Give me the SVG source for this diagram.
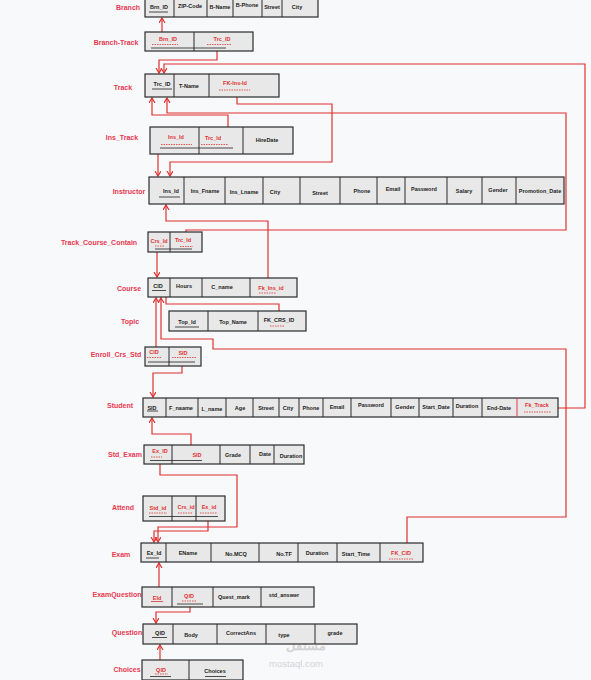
<svg xmlns="http://www.w3.org/2000/svg" width="591" height="680" viewBox="0 0 591 680">
<defs>
<style>
.bg{fill:#f8f9fb}
.box{fill:#e8e8e8;stroke:#2b2b2b;stroke-width:1.2}
.dv{stroke:#2b2b2b;stroke-width:1}
.t{font-family:"Liberation Sans",Arial,sans-serif;font-weight:700;font-size:5.5px;fill:#222;text-anchor:middle}
.r{fill:#e03131}
.lbl{font-family:"Liberation Sans",Arial,sans-serif;font-weight:700;font-size:7px;fill:#e8384f;text-anchor:middle}
.ul{stroke:#222;stroke-width:0.8}
.dl{stroke:#e03131;stroke-width:0.8;stroke-dasharray:1.5 1}
.c{fill:none;stroke:#e03131;stroke-width:1.2}
.wm{font-family:"Liberation Sans",Arial,sans-serif;fill:#d4d4d4;text-anchor:middle}
</style>
<marker id="ah" markerUnits="userSpaceOnUse" markerWidth="8" markerHeight="8" refX="5" refY="3" orient="auto">
<path d="M0,0 L5,3 L0,6" fill="none" stroke="#e03131" stroke-width="1.2"/>
</marker>
</defs>
<rect class="bg" x="0" y="0" width="591" height="680"/>

<g id="watermark">
<text class="wm" x="306" y="650" font-size="13" font-weight="700" font-family="DejaVu Sans, sans-serif">مستقل</text>
<text class="wm" x="296" y="667" font-size="9.5">mostaql.com</text>
</g>

<g id="connectors">
<path class="c" d="M162,32 V18" marker-end="url(#ah)"/>
<path class="c" d="M217,51 V60 H159 V73" marker-end="url(#ah)"/>
<path class="c" d="M558,408 H585 V64 H164 V73" marker-end="url(#ah)"/>
<path class="c" d="M228,127 V115 H152 V98" marker-end="url(#ah)"/>
<path class="c" d="M186,232 V230 H566 V113 H167 V98" marker-end="url(#ah)"/>
<path class="c" d="M237,97 V104 H332 V162 H170 V176" marker-end="url(#ah)"/>
<path class="c" d="M158,154 V176" marker-end="url(#ah)"/>
<path class="c" d="M268,278 V221 H166 V205" marker-end="url(#ah)"/>
<path class="c" d="M157,252 V277" marker-end="url(#ah)"/>
<path class="c" d="M279,311 V304 H166 V297"/>
<path class="c" d="M156,347 V298" marker-end="url(#ah)"/>
<path class="c" d="M407,543 V517 H566 V349 H213 V339 H161 V298" marker-end="url(#ah)"/>
<path class="c" d="M182,366 V373 H153 V397" marker-end="url(#ah)"/>
<path class="c" d="M191,445 V434 H152 V418" marker-end="url(#ah)"/>
<path class="c" d="M160,464 V475 H237 V527 H158 V542" marker-end="url(#ah)"/>
<path class="c" d="M208,521 V531 H154 V542" marker-end="url(#ah)"/>
<path class="c" d="M159,587 V563" marker-end="url(#ah)"/>
<path class="c" d="M190,607 V612 H156 V623" marker-end="url(#ah)"/>
<path class="c" d="M160,660 V645" marker-end="url(#ah)"/>
</g>

<g id="branch">
<text class="lbl" x="128" y="10">Branch</text>
<rect class="box" x="145" y="-3" width="173" height="20"/>
<path class="dv" d="M174,-3V17M207,-3V17M233,-3V17M262,-3V17M282,-3V17"/>
<text class="t" x="159" y="9">Brn_ID</text>
<line class="ul" x1="149" y1="12" x2="168" y2="12"/>
<text class="t" x="190" y="8">ZIP-Code</text>
<text class="t" x="220" y="9">B-Name</text>
<text class="t" x="247" y="7">B-Phone</text>
<text class="t" x="272" y="9">Street</text>
<text class="t" x="297" y="9">City</text>
</g>

<g id="branch-track">
<text class="lbl" x="116" y="45">Branch-Track</text>
<rect class="box" x="145" y="32" width="108" height="19"/>
<path class="dv" d="M194,32V51"/>
<text class="t r" x="168" y="41">Brn_ID</text>
<line class="dl" x1="152" y1="44.5" x2="178" y2="44.5"/>
<text class="t r" x="222" y="41">Trc_ID</text>
<line class="dl" x1="207" y1="44.5" x2="232" y2="44.5"/>
<line class="ul" x1="151" y1="48" x2="226" y2="48"/>
</g>

<g id="track">
<text class="lbl" x="123" y="90">Track</text>
<rect class="box" x="145" y="74" width="134" height="23"/>
<path class="dv" d="M174,74V97M209,74V97"/>
<text class="t" x="162" y="86">Trc_ID</text>
<line class="ul" x1="152" y1="89" x2="172" y2="89"/>
<text class="t" x="189" y="88">T-Name</text>
<text class="t r" x="235" y="85">FK-Ins-Id</text>
<line class="dl" x1="219" y1="90" x2="250" y2="90"/>
</g>

<g id="ins_track">
<text class="lbl" x="122" y="140">Ins_Track</text>
<rect class="box" x="150" y="127" width="143" height="27"/>
<path class="dv" d="M199,127V154M243,127V154"/>
<text class="t r" x="176" y="139">Ins_Id</text>
<line class="dl" x1="161" y1="144.5" x2="192" y2="144.5"/>
<text class="t r" x="213" y="140">Trc_Id</text>
<line class="dl" x1="201" y1="144.5" x2="228" y2="144.5"/>
<line class="ul" x1="160" y1="148" x2="233" y2="148"/>
<text class="t" x="267" y="142">HireDate</text>
</g>

<g id="instructor">
<text class="lbl" x="129" y="194">Instructor</text>
<rect class="box" x="149" y="177" width="415" height="27"/>
<path class="dv" d="M184,177V204M225,177V204M263,177V204M300,177V204M340,177V204M377,177V204M405,177V204M447,177V204M482,177V204M516,177V204"/>
<text class="t" x="171" y="193">Ins_Id</text>
<line class="ul" x1="159" y1="197" x2="180" y2="197"/>
<text class="t" x="205" y="193">Ins_Fname</text>
<text class="t" x="244" y="194">Ins_Lname</text>
<text class="t" x="275" y="194">City</text>
<text class="t" x="320" y="195">Street</text>
<text class="t" x="362" y="193">Phone</text>
<text class="t" x="393" y="191">Email</text>
<text class="t" x="424" y="191">Password</text>
<text class="t" x="464" y="193">Salary</text>
<text class="t" x="498" y="192">Gender</text>
<text class="t" x="540" y="193">Promotion_Date</text>
</g>

<g id="track_course_contain">
<text class="lbl" x="99" y="245">Track_Course_Contain</text>
<rect class="box" x="148" y="232" width="54" height="20"/>
<path class="dv" d="M170,232V252"/>
<text class="t r" x="159" y="243">Crs_Id</text>
<line class="dl" x1="155" y1="246" x2="165" y2="246"/>
<text class="t r" x="183" y="242">Trc_Id</text>
<line class="dl" x1="180" y1="246.5" x2="193" y2="246.5"/>
<line class="ul" x1="155" y1="249" x2="192" y2="249"/>
</g>

<g id="course">
<text class="lbl" x="129" y="291">Course</text>
<rect class="box" x="148" y="278" width="149" height="19"/>
<path class="dv" d="M170,278V297M202,278V297M250,278V297"/>
<text class="t" x="158" y="288">CID</text>
<line class="ul" x1="152" y1="290.5" x2="166" y2="290.5"/>
<text class="t" x="184" y="288">Hours</text>
<text class="t" x="222" y="289">C_name</text>
<text class="t r" x="271" y="290">Fk_Ins_id</text>
<line class="dl" x1="259" y1="293" x2="276" y2="293"/>
</g>

<g id="topic">
<text class="lbl" x="130" y="324">Topic</text>
<rect class="box" x="169" y="311" width="137" height="20"/>
<path class="dv" d="M208,311V331M258,311V331"/>
<text class="t" x="187" y="324">Top_Id</text>
<line class="ul" x1="175" y1="327" x2="199" y2="327"/>
<text class="t" x="233" y="324">Top_Name</text>
<text class="t" x="279" y="322">FK_CRS_ID</text>
<line class="dl" x1="270" y1="326" x2="284" y2="326"/>
</g>

<g id="enroll_crs_std">
<text class="lbl" x="116" y="357">Enroll_Crs_Std</text>
<rect class="box" x="145" y="347" width="56" height="19"/>
<path class="dv" d="M169,347V366"/>
<text class="t r" x="154" y="354">CID</text>
<line class="dl" x1="147" y1="357.5" x2="161" y2="357.5"/>
<text class="t r" x="183" y="355">SID</text>
<line class="dl" x1="172" y1="357.5" x2="196" y2="357.5"/>
<line class="ul" x1="148" y1="362" x2="195" y2="362"/>
</g>

<g id="student">
<text class="lbl" x="120" y="408">Student</text>
<rect class="box" x="143" y="398" width="415" height="19"/>
<path class="dv" d="M166,398V417M198,398V417M226,398V417M253,398V417M279,398V417M299,398V417M323,398V417M351,398V417M391,398V417M419,398V417M453,398V417M482,398V417"/>
<path d="M517,398V417" stroke="#e8384f" stroke-width="1"/>
<text class="t" x="152" y="410">SID</text>
<line class="ul" x1="147" y1="411" x2="158" y2="411"/>
<text class="t" x="181" y="410">F_naame</text>
<text class="t" x="212" y="411">L_name</text>
<text class="t" x="240" y="410">Age</text>
<text class="t" x="266" y="410">Street</text>
<text class="t" x="288" y="410">City</text>
<text class="t" x="311" y="410">Phone</text>
<text class="t" x="337" y="409">Email</text>
<text class="t" x="371" y="407">Password</text>
<text class="t" x="405" y="409">Gender</text>
<text class="t" x="436" y="409">Start_Date</text>
<text class="t" x="467" y="408">Duration</text>
<text class="t" x="499" y="410">End-Date</text>
<text class="t r" x="537" y="407">Fk_Track</text>
<line class="dl" x1="524" y1="412" x2="551" y2="412"/>
</g>

<g id="std_exam">
<text class="lbl" x="125" y="457">Std_Exam</text>
<rect class="box" x="144" y="445" width="160" height="19"/>
<path class="dv" d="M172,445V464M220,445V464M250,445V464M274,445V464"/>
<text class="t r" x="160" y="453">Ex_ID</text>
<line class="dl" x1="151" y1="457" x2="162" y2="457"/>
<text class="t r" x="197" y="457">SID</text>
<line class="ul" x1="150" y1="460.5" x2="202" y2="460.5"/>
<text class="t" x="233" y="457">Grade</text>
<text class="t" x="265" y="456">Date</text>
<text class="t" x="291" y="458">Duration</text>
</g>

<g id="attend">
<text class="lbl" x="123" y="510">Attend</text>
<rect class="box" x="143" y="496" width="82" height="25"/>
<path class="dv" d="M172,496V521M196,496V521"/>
<text class="t r" x="158" y="510">Std_id</text>
<line class="dl" x1="149" y1="513" x2="167" y2="513"/>
<text class="t r" x="186" y="509">Crs_id</text>
<line class="dl" x1="178" y1="513" x2="192" y2="513"/>
<text class="t r" x="209" y="509">Ex_id</text>
<line class="dl" x1="200" y1="513" x2="217" y2="513"/>
<line class="ul" x1="149" y1="516.5" x2="218" y2="516.5"/>
</g>

<g id="exam">
<text class="lbl" x="121" y="557">Exam</text>
<rect class="box" x="141" y="543" width="282" height="19"/>
<path class="dv" d="M166,543V562M211,543V562M259,543V562M298,543V562M337,543V562M380,543V562"/>
<text class="t" x="154" y="555">Ex_Id</text>
<line class="ul" x1="146" y1="558" x2="159" y2="558"/>
<text class="t" x="188" y="555">EName</text>
<text class="t" x="236" y="556">No.MCQ</text>
<text class="t" x="284" y="556">No.TF</text>
<text class="t" x="317" y="555">Duration</text>
<text class="t" x="356" y="556">Start_Time</text>
<text class="t r" x="401" y="555">FK_CID</text>
<line class="dl" x1="389" y1="559" x2="413" y2="559"/>
</g>

<g id="examquestion">
<text class="lbl" x="117" y="597">ExamQuestion</text>
<rect class="box" x="142" y="587" width="172" height="20"/>
<path class="dv" d="M172,587V607M213,587V607M261,587V607"/>
<text class="t r" x="157" y="600">EId</text>
<line x1="151" y1="601.5" x2="163" y2="601.5" stroke="#e03131" stroke-width="0.8"/>
<text class="t r" x="189" y="598">QID</text>
<line class="dl" x1="182" y1="601" x2="197" y2="601"/>
<line class="ul" x1="177" y1="604" x2="203" y2="604"/>
<text class="t" x="234" y="599">Quest_mark</text>
<text class="t" x="284" y="597">std_answer</text>
</g>

<g id="question">
<text class="lbl" x="127" y="635">Question</text>
<rect class="box" x="143" y="624" width="214" height="20"/>
<path class="dv" d="M173,624V644M217,624V644M266,624V644M315,624V644"/>
<text class="t" x="160" y="635">QID</text>
<line class="ul" x1="152" y1="637.5" x2="167" y2="637.5"/>
<text class="t" x="191" y="637">Body</text>
<text class="t" x="241" y="635">CorrectAns</text>
<text class="t" x="284" y="637">type</text>
<text class="t" x="335" y="635">grade</text>
</g>

<g id="choices">
<text class="lbl" x="127" y="672">Choices</text>
<rect class="box" x="142" y="660" width="101" height="20"/>
<path class="dv" d="M189,660V680"/>
<text class="t r" x="161" y="672">QID</text>
<line class="dl" x1="155" y1="674" x2="168" y2="674"/>
<line class="ul" x1="150" y1="676.5" x2="171" y2="676.5"/>
<text class="t" x="215" y="673">Choices</text>
<line class="ul" x1="205" y1="676.5" x2="226" y2="676.5"/>
</g>
</svg>
